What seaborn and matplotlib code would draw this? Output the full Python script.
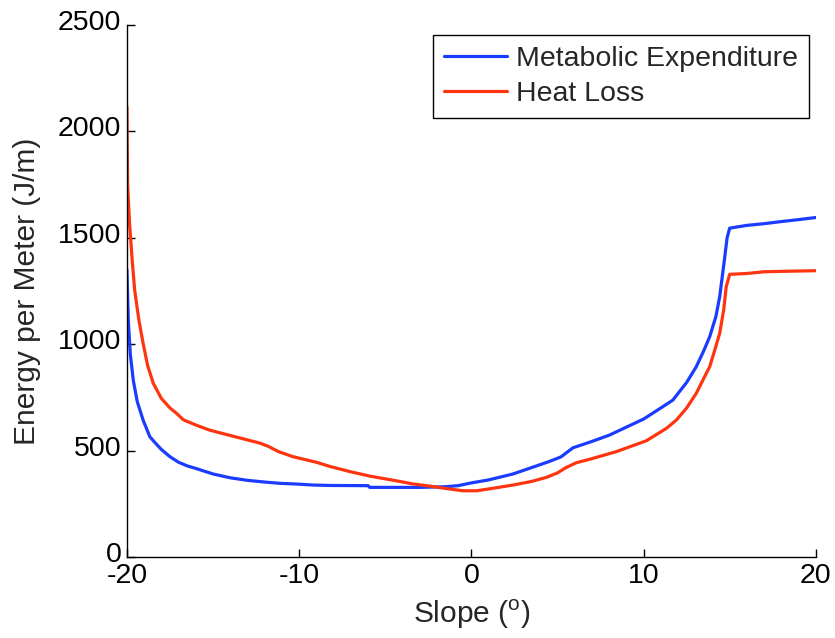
import numpy as np
import pandas as pd
import seaborn as sns
import matplotlib.pyplot as plt
import matplotlib.transforms as mtransforms

# slope (deg) and energy per meter (J/m)
met_x = [-20, -19.92, -19.8, -19.63, -19.4, -19.06, -18.67, -18.4, -18, -17.5, -17,
         -16.5, -15.96, -15, -14, -13, -12, -11.12, -10, -9.19, -8.2, -6, -5.9,
         -3, -1.5, -0.77, 0, 1, 2.42, 3.5, 4.5, 5.2, 5.9, 6.9, 8, 9, 10, 11, 11.7,
         12.5, 13.06, 13.5, 13.84, 14.2, 14.42, 14.7, 14.85, 15.0, 16, 17, 18, 19, 20]
met_y = [1350, 1110, 950, 830, 730, 643, 565, 540, 505, 471, 445,
         428, 415, 390, 372, 360, 352, 346, 342, 338, 336, 335, 327,
         327, 330, 335, 348, 362, 390, 420, 448, 470, 513, 540, 572, 610, 648, 700, 737,
         820, 894, 970, 1035, 1130, 1223, 1400, 1500, 1545, 1558, 1566, 1576, 1585, 1595]

heat_x = [-20, -19.96, -19.85, -19.7, -19.55, -19.3, -19.06, -18.8, -18.47, -18, -17.5,
          -17.12, -16.73, -16, -15.2, -14.2, -13, -12.28, -11.8, -11.2, -10.35, -9,
          -8.2, -7, -5.9, -4.5, -3.38, -2.41, -1.5, -0.48, 0.3, 1.2, 2.42, 3.5, 4.36,
          5, 5.5, 6.1, 6.87, 8.42, 10.16, 11.32, 11.9, 12.5, 13.06, 13.5, 13.84, 14.2,
          14.42, 14.65, 14.8, 15.0, 16, 17, 18, 20]
heat_y = [2115, 1750, 1570, 1400, 1254, 1110, 1004, 900, 816, 745, 700,
          675, 645, 620, 596, 575, 550, 535, 520, 495, 471, 445,
          425, 400, 380, 360, 343, 333, 322, 311, 311, 322, 338, 355, 374,
          395, 420, 443, 459, 495, 546, 604, 643, 700, 769, 840, 894, 990,
          1051, 1160, 1270, 1328, 1332, 1340, 1342, 1345]

sns.set_theme(style="ticks")
plt.rcParams['font.family'] = ['Liberation Sans', 'DejaVu Sans']
plt.rcParams['mathtext.fontset'] = 'custom'
plt.rcParams['mathtext.rm'] = 'Liberation Sans'
plt.rcParams['axes.unicode_minus'] = False
plt.rcParams['xtick.direction'] = 'in'
plt.rcParams['ytick.direction'] = 'in'

fig = plt.figure(figsize=(8.35, 6.38), dpi=100)
ax = fig.add_axes([0.152, 0.127, 0.825, 0.834])

df_met = pd.DataFrame({"slope": met_x, "energy": met_y})
df_heat = pd.DataFrame({"slope": heat_x, "energy": heat_y})

sns.lineplot(data=df_met, x="slope", y="energy", color="#1a3cff", lw=2.3,
             label="Metabolic Expenditure", estimator=None, ax=ax)
sns.lineplot(data=df_heat, x="slope", y="energy", color="#ff3510", lw=2.3,
             label="Heat Loss", estimator=None, ax=ax)

ax.set_xlim(-20, 20)
ax.set_ylim(0, 2500)
ax.set_xticks([-20, -10, 0, 10, 20])
ax.set_yticks([0, 500, 1000, 1500, 2000, 2500])
ax.tick_params(labelsize=20.5, length=6, width=1, colors="black")
ax.tick_params(axis="y", pad=4)
ax.tick_params(axis="x", pad=4)
for s in ["top", "right"]:
    ax.spines[s].set_visible(False)
for s in ["left", "bottom"]:
    ax.spines[s].set_linewidth(1)
    ax.spines[s].set_color("black")

# y tick labels sit a few pixels above their ticks in the original
shift = mtransforms.ScaledTranslation(0, 5 / 100, fig.dpi_scale_trans)
for lbl in ax.get_yticklabels():
    lbl.set_transform(lbl.get_transform() + shift)

ax.set_xlabel(r"Slope ($^{\mathrm{o}}$)", fontsize=21.5, labelpad=7)
ax.set_ylabel("Energy per Meter (J/m)", fontsize=21.5, labelpad=12)

leg = ax.legend(loc="upper right", bbox_to_anchor=(0.99, 0.981), borderaxespad=0,
                fontsize=20.5, fancybox=False, edgecolor="black", framealpha=1,
                handlelength=2.2, handletextpad=0.3, labelspacing=0.3,
                borderpad=0.4)
leg.get_frame().set_linewidth(1)

fig.savefig("out.png", dpi=100)
